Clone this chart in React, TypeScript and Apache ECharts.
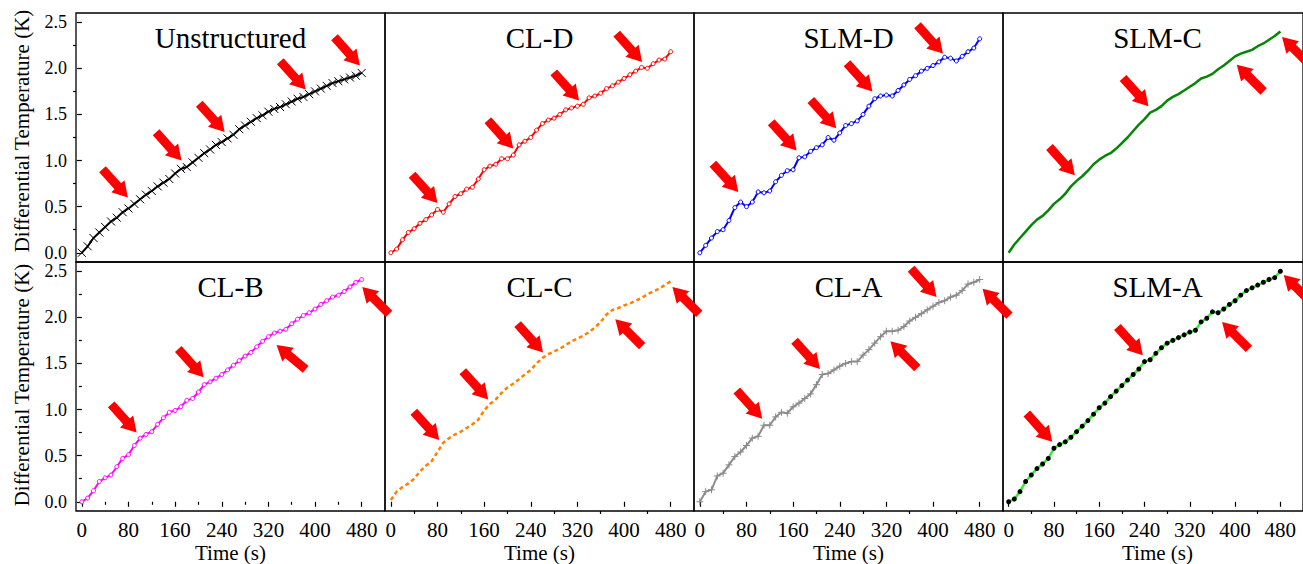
import React, { useEffect, useRef } from 'react';
import * as echarts from 'echarts';

// ---------- data ----------
const TIME = [0, 10, 20, 30, 40, 50, 60, 70, 80, 90, 100, 110, 120, 130, 140, 150, 160, 170, 180, 190, 200, 210, 220, 230, 240, 250, 260, 270, 280, 290, 300, 310, 320, 330, 340, 350, 360, 370, 380, 390, 400, 410, 420, 430, 440, 450, 460, 470, 480];
const X_TICKS = [0, 80, 160, 240, 320, 400, 480];
const X_MINOR = [40, 120, 200, 280, 360, 440];
const Y_TICKS = [0, 0.5, 1, 1.5, 2, 2.5];
const Y_MINOR = [0.25, 0.75, 1.25, 1.75, 2.25];

const PANEL_TITLES = ['Unstructured', 'CL-D', 'SLM-D', 'SLM-C', 'CL-B', 'CL-C', 'CL-A', 'SLM-A'];
const Y_TITLE = 'Differential Temperature (K)';
const X_TITLE = 'Time (s)';

const UNSTRUCTURED = [0.00, 0.07, 0.16, 0.22, 0.28, 0.34, 0.38, 0.44, 0.48, 0.53, 0.58, 0.63, 0.67, 0.72, 0.76, 0.80, 0.86, 0.91, 0.93, 0.98, 1.03, 1.08, 1.12, 1.17, 1.20, 1.24, 1.28, 1.34, 1.38, 1.42, 1.46, 1.49, 1.53, 1.56, 1.58, 1.61, 1.64, 1.67, 1.69, 1.72, 1.75, 1.78, 1.81, 1.84, 1.86, 1.88, 1.90, 1.92, 1.95];
const CL_D = [0.00, 0.04, 0.14, 0.22, 0.26, 0.32, 0.36, 0.41, 0.47, 0.44, 0.53, 0.61, 0.64, 0.69, 0.71, 0.80, 0.90, 0.94, 0.96, 1.02, 1.02, 1.06, 1.17, 1.21, 1.25, 1.33, 1.40, 1.44, 1.46, 1.50, 1.55, 1.57, 1.59, 1.61, 1.68, 1.70, 1.73, 1.78, 1.81, 1.85, 1.89, 1.93, 1.97, 2.01, 2.00, 2.05, 2.09, 2.10, 2.18];
const SLM_D = [0.00, 0.08, 0.16, 0.23, 0.25, 0.35, 0.49, 0.55, 0.50, 0.55, 0.66, 0.65, 0.67, 0.77, 0.84, 0.89, 0.90, 1.03, 1.04, 1.10, 1.14, 1.17, 1.25, 1.22, 1.30, 1.38, 1.40, 1.43, 1.50, 1.59, 1.67, 1.70, 1.71, 1.70, 1.76, 1.82, 1.88, 1.92, 1.97, 2.00, 2.03, 2.07, 2.12, 2.11, 2.08, 2.13, 2.18, 2.22, 2.32];
const SLM_C = [0.00, 0.09, 0.16, 0.23, 0.30, 0.36, 0.40, 0.46, 0.53, 0.58, 0.64, 0.72, 0.78, 0.83, 0.89, 0.96, 1.01, 1.05, 1.08, 1.13, 1.19, 1.25, 1.32, 1.39, 1.45, 1.52, 1.55, 1.59, 1.65, 1.69, 1.72, 1.76, 1.80, 1.84, 1.89, 1.91, 1.94, 1.99, 2.03, 2.08, 2.13, 2.16, 2.18, 2.20, 2.24, 2.27, 2.31, 2.35, 2.40];
const CL_B = [0.00, 0.04, 0.12, 0.22, 0.26, 0.29, 0.38, 0.47, 0.51, 0.61, 0.69, 0.73, 0.76, 0.84, 0.91, 0.97, 0.99, 1.03, 1.10, 1.12, 1.19, 1.27, 1.30, 1.34, 1.38, 1.43, 1.48, 1.53, 1.58, 1.62, 1.68, 1.74, 1.79, 1.83, 1.85, 1.87, 1.93, 1.98, 2.02, 2.05, 2.09, 2.14, 2.18, 2.22, 2.24, 2.28, 2.33, 2.38, 2.41];
const CL_C = [0.02, 0.11, 0.16, 0.20, 0.25, 0.33, 0.39, 0.44, 0.54, 0.64, 0.69, 0.73, 0.76, 0.80, 0.84, 0.89, 0.99, 1.06, 1.11, 1.18, 1.24, 1.28, 1.33, 1.38, 1.43, 1.50, 1.56, 1.60, 1.63, 1.66, 1.70, 1.74, 1.77, 1.80, 1.84, 1.89, 1.95, 2.03, 2.08, 2.10, 2.13, 2.15, 2.18, 2.21, 2.25, 2.28, 2.31, 2.35, 2.39];
const CL_A = [0.00, 0.11, 0.13, 0.28, 0.31, 0.40, 0.49, 0.54, 0.61, 0.69, 0.71, 0.83, 0.83, 0.92, 0.97, 0.96, 1.03, 1.07, 1.12, 1.17, 1.27, 1.38, 1.39, 1.43, 1.47, 1.50, 1.52, 1.52, 1.59, 1.65, 1.72, 1.79, 1.85, 1.85, 1.86, 1.90, 1.96, 2.00, 2.04, 2.08, 2.12, 2.16, 2.18, 2.22, 2.24, 2.29, 2.36, 2.38, 2.41];
const SLM_A = [0.00, 0.03, 0.11, 0.22, 0.29, 0.36, 0.41, 0.47, 0.58, 0.62, 0.65, 0.70, 0.76, 0.82, 0.88, 0.95, 1.02, 1.07, 1.14, 1.20, 1.26, 1.32, 1.38, 1.44, 1.52, 1.54, 1.61, 1.67, 1.72, 1.75, 1.78, 1.81, 1.84, 1.86, 1.95, 1.99, 2.06, 2.05, 2.09, 2.14, 2.18, 2.24, 2.29, 2.32, 2.35, 2.38, 2.41, 2.43, 2.50];

// arrow annotations: [time, value, pointing direction in screen degrees]
const ARROWS_UNSTRUCTURED = [[79, 0.60, 48], [171, 1.00, 48], [245, 1.31, 48], [384, 1.77, 48], [477, 2.03, 48]];
const ARROWS_CL_D = [[80, 0.54, 48], [210, 1.13, 48], [323, 1.65, 48], [431, 2.07, 48]];
const ARROWS_SLM_D = [[66, 0.66, 48], [166, 1.11, 48], [234, 1.35, 48], [296, 1.75, 48], [417, 2.16, 48]];
const ARROWS_SLM_C = [[117, 0.84, 48], [247, 1.59, 48], [403, 2.04, 225], [483, 2.34, 225]];
const ARROWS_CL_B = [[94, 0.75, 48], [209, 1.35, 48], [334, 1.70, 220], [481, 2.33, 225]];
const ARROWS_CL_C = [[83, 0.67, 48], [167, 1.11, 48], [261, 1.62, 48], [385, 1.98, 225], [483, 2.33, 225]];
const ARROWS_CL_A = [[107, 0.90, 48], [206, 1.44, 48], [327, 1.74, 225], [406, 2.22, 48], [485, 2.31, 225]];
const ARROWS_SLM_A = [[77, 0.65, 48], [237, 1.59, 48], [377, 1.95, 225], [486, 2.46, 225]];

const SERIES_VALUES = [UNSTRUCTURED, CL_D, SLM_D, SLM_C, CL_B, CL_C, CL_A, SLM_A];
const SERIES_ARROWS = [ARROWS_UNSTRUCTURED, ARROWS_CL_D, ARROWS_SLM_D, ARROWS_SLM_C, ARROWS_CL_B, ARROWS_CL_C, ARROWS_CL_A, ARROWS_SLM_A];

// ---------- styles / layout ----------
const FONT = "'Liberation Serif', 'Times New Roman', serif";
const COL_LEFT = [76, 385, 694, 1003];
const ROW_TOP = [13, 262];
const PANEL_W = 309;
const PANEL_H = 249;

const CROSS = 'path://M0,0L10,10M10,0L0,10';
const PLUS = 'path://M5,0L5,10M0,5L10,5';
const ARROW_W = 26;
const ARROW_L = 38;
const ARROW = 'path://M13,0L26,15L19.5,15L19.5,38L6.5,38L6.5,15L0,15Z';

const STYLES: any[] = [
  { line: '#000000', width: 2, symbol: CROSS, size: 8, fill: '#000000', border: '#000000', bw: 1 },
  { line: '#FF0000', width: 2, symbol: 'circle', size: 4, fill: '#FFFFFF', border: '#FF0000', bw: 1 },
  { line: '#0000FF', width: 2, symbol: 'circle', size: 4, fill: '#FFFFFF', border: '#0000FF', bw: 1 },
  { line: '#078507', width: 2.5, symbol: 'none', size: 0, fill: '#078507', border: '#078507', bw: 0 },
  { line: '#FF00FF', width: 2, symbol: 'circle', size: 4, fill: '#FFFFFF', border: '#FF00FF', bw: 1 },
  { line: '#FF8000', width: 2.5, symbol: 'none', size: 0, fill: '#FF8000', border: '#FF8000', bw: 0, dash: [4, 3] },
  { line: '#8C8C8C', width: 2, symbol: PLUS, size: 7, fill: '#8C8C8C', border: '#8C8C8C', bw: 1 },
  { line: '#33EE33', width: 2.5, symbol: 'circle', size: 5, fill: '#000000', border: '#000000', bw: 0 },
];

function buildOption() {
  const grid: any[] = [];
  const xAxis: any[] = [];
  const yAxis: any[] = [];
  const series: any[] = [];
  const graphic: any[] = [];

  for (let i = 0; i < 8; i++) {
    const row = i < 4 ? 0 : 1;
    const col = i % 4;
    grid.push({
      left: COL_LEFT[col], top: ROW_TOP[row], width: PANEL_W, height: PANEL_H,
      show: true, borderColor: '#000', borderWidth: 1.3, backgroundColor: 'transparent',
      containLabel: false,
    });
  }

  const tickLine = { color: '#000', width: 1.2 };

  // main axes
  for (let i = 0; i < 8; i++) {
    const row = i < 4 ? 0 : 1;
    const col = i % 4;
    xAxis.push({
      type: 'value', gridIndex: i, min: -10, max: 520, position: 'bottom',
      axisLine: { show: false },
      splitLine: { show: false },
      axisTick: { show: row === 1, customValues: X_TICKS, length: 5, inside: false, lineStyle: tickLine },
      axisLabel: {
        show: row === 1, customValues: X_TICKS, margin: 8,
        fontSize: 21, fontFamily: FONT, color: '#000',
      },
    });
    yAxis.push({
      type: 'value', gridIndex: i, min: -0.1, max: 2.6, position: 'left',
      axisLine: { show: false },
      splitLine: { show: false },
      axisTick: { show: col === 0, customValues: Y_TICKS, length: 5, inside: false, lineStyle: tickLine },
      axisLabel: {
        show: col === 0, customValues: Y_TICKS, margin: 9,
        fontSize: 18, lineHeight: 15, fontFamily: FONT, color: '#000',
        formatter: (v: number) => v.toFixed(1),
      },
    });
  }
  // minor tick axes
  for (let i = 4; i < 8; i++) {
    xAxis.push({
      type: 'value', gridIndex: i, min: -10, max: 520, position: 'bottom',
      axisLine: { show: false }, splitLine: { show: false },
      axisTick: { show: true, customValues: X_MINOR, length: 3, inside: false, lineStyle: tickLine },
      axisLabel: { show: false },
    });
  }
  for (const i of [0, 4]) {
    yAxis.push({
      type: 'value', gridIndex: i, min: -0.1, max: 2.6, position: 'left',
      axisLine: { show: false }, splitLine: { show: false },
      axisTick: { show: true, customValues: Y_MINOR, length: 3, inside: false, lineStyle: tickLine },
      axisLabel: { show: false },
    });
  }

  for (let i = 0; i < 8; i++) {
    const s = STYLES[i];
    const vals = SERIES_VALUES[i];
    const arrows = SERIES_ARROWS[i];
    series.push({
      type: 'line',
      xAxisIndex: i,
      yAxisIndex: i,
      data: TIME.map((t, k) => [t, vals[k]]),
      symbol: s.symbol,
      symbolSize: s.size,
      showSymbol: s.symbol !== 'none',
      lineStyle: { color: s.line, width: s.width, type: s.dash || 'solid' },
      itemStyle: { color: s.fill, borderColor: s.border, borderWidth: s.bw },
      emphasis: { disabled: true },
      silent: true,
      z: 2,
      markPoint: {
        silent: true,
        symbolKeepAspect: true,
        label: { show: false },
        z: 5,
        data: arrows.map(([x, y, phi]) => {
          const p = (phi * Math.PI) / 180;
          const r = Math.atan2(-Math.cos(p), -Math.sin(p));
          const h = ARROW_L / 2;
          return {
            coord: [x, y],
            symbol: ARROW,
            symbolSize: [ARROW_W, ARROW_L],
            symbolRotate: (r * 180) / Math.PI,
            symbolOffset: [h * Math.sin(r), h * Math.cos(r)],
            itemStyle: { color: '#FF0000' },
          };
        }),
      },
    });
  }

  // texts
  const textStyle = (text: string, size: number) => ({
    text, fontSize: size, fontFamily: FONT, fill: '#000',
    align: 'center', verticalAlign: 'middle', textAlign: 'center', textVerticalAlign: 'middle',
  });
  for (let i = 0; i < 8; i++) {
    const row = i < 4 ? 0 : 1;
    const col = i % 4;
    graphic.push({
      type: 'text', silent: true,
      x: COL_LEFT[col] + PANEL_W / 2,
      y: ROW_TOP[row] + 24.5,
      style: textStyle(PANEL_TITLES[i], 29),
    });
  }
  for (let col = 0; col < 4; col++) {
    graphic.push({
      type: 'text', silent: true,
      x: COL_LEFT[col] + PANEL_W / 2,
      y: 553,
      style: textStyle(X_TITLE, 21),
    });
  }
  const yTitleCenters = [131, 385];
  for (const yc of yTitleCenters) {
    graphic.push({
      type: 'text', silent: true,
      x: 22, y: yc, rotation: Math.PI / 2,
      style: textStyle(Y_TITLE, 21),
    });
  }

  return {
    animation: false,
    backgroundColor: '#ffffff',
    textStyle: { fontFamily: FONT },
    grid,
    xAxis,
    yAxis,
    series,
    graphic,
  };
}

export default function App() {
  const ref = useRef<HTMLDivElement>(null);
  useEffect(() => {
    if (!ref.current) return;
    const chart = echarts.init(ref.current, null, { renderer: 'svg' });
    chart.setOption(buildOption() as any);
    return () => chart.dispose();
  }, []);
  return (
    <div
      ref={ref}
      style={{ position: 'fixed', left: 0, top: 0, width: 1303, height: 564, background: '#fff' }}
    />
  );
}
